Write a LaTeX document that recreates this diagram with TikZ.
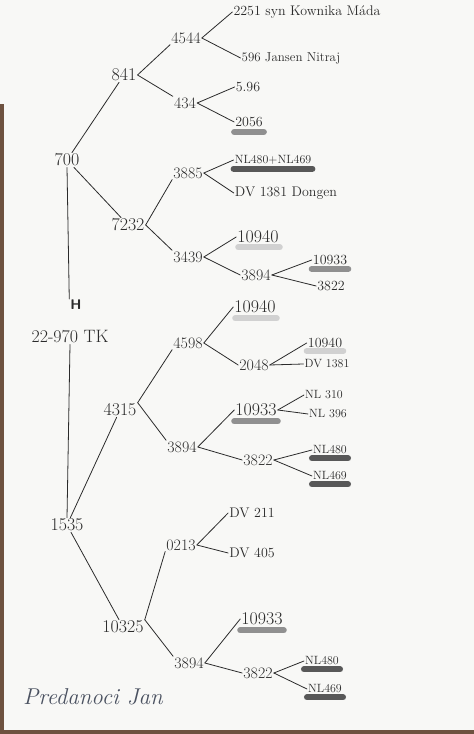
\documentclass[tikz,border=0pt]{standalone}
\usepackage{fontspec}
\definecolor{pen}{HTML}{2B2B2B}
\definecolor{bluepen}{HTML}{4A5160}
\definecolor{paper}{HTML}{F8F8F6}
\definecolor{wood}{HTML}{6E5240}
\definecolor{hldark}{HTML}{474747}
\definecolor{hlmid}{HTML}{858585}
\definecolor{hllight}{HTML}{CDCDCD}
\tikzset{
  big/.style={draw=none,inner sep=1bp,text=pen,font=\fontsize{18}{20}\selectfont},
  mid/.style={draw=none,inner sep=1bp,text=pen,font=\fontsize{16}{18}\selectfont},
  leaf/.style={draw=none,inner sep=1bp,text=pen,font=\fontsize{14}{16}\selectfont},
  tiny/.style={draw=none,inner sep=1bp,text=pen,font=\fontsize{12}{14}\selectfont},
  bar/.style={line width=6bp,line cap=round},
}
\begin{document}
\begin{tikzpicture}[>=latex,line join=bevel,]
%%
\useasboundingbox (0bp,0bp) rectangle (474bp,734bp);
\fill [paper] (0bp,0bp) rectangle (474bp,734bp);
\fill [wood] (0bp,0bp) rectangle (4bp,630bp);
\fill [wood] (0bp,0bp) rectangle (474bp,4bp);
%
\node (node_2251) at (307bp,722bp) [leaf] {2251 syn Kownika Máda};
  \node (node_4544) at (186bp,696bp) [mid] {4544};
  \node (node_596) at (291bp,676bp) [draw=none,inner sep=1bp,text=pen,font=\fontsize{13}{15}\selectfont] {596 Jansen Nitraj};
  \node (node_841) at (124bp,659bp) [big] {841};
  \node (node_596b) at (248bp,647bp) [leaf] {5.96};
  \node (node_434) at (185bp,631bp) [mid] {434};
  \node (node_2056) at (249bp,612bp) [leaf] {2056};
  \node (node_700) at (67bp,574bp) [big] {700};
  \node (node_3885) at (188bp,561bp) [mid] {3885};
  \node (node_nlpair) at (273bp,574bp) [tiny] {NL480+NL469};
  \node (node_dv1381) at (286bp,541bp) [leaf] {DV 1381 Dongen};
  \node (node_7232) at (128bp,509bp) [big] {7232};
  \node (node_10940) at (258bp,497bp) [big] {10940};
  \node (node_3439) at (188bp,477bp) [mid] {3439};
  \node (node_3894) at (256bp,459bp) [mid] {3894};
  \node (node_10933) at (330bp,474bp) [leaf] {10933};
  \node (node_3822) at (331bp,448bp) [leaf] {3822};
  \node (node_h) at (76bp,429bp) [draw=none,inner sep=1bp,text=pen,font=\sffamily\bfseries\fontsize{14}{16}\selectfont] {H};
  \node (node_tk) at (70bp,397bp) [big] {22-970 TK};
%
\node (node_10940b) at (255bp,427bp) [big] {10940};
  \node (node_4598) at (188bp,391bp) [mid] {4598};
  \node (node_2048) at (254bp,369bp) [mid] {2048};
  \node (node_10940c) at (325bp,391bp) [draw=none,inner sep=1bp,text=pen,font=\fontsize{14}{16}\selectfont] {10940};
  \node (node_dv1381b) at (327bp,370bp) [tiny] {DV 1381};
  \node (node_4315) at (120bp,324bp) [big] {4315};
  \node (node_nl310) at (324bp,339bp) [tiny] {NL 310};
  \node (node_10933b) at (256bp,324bp) [big] {10933};
  \node (node_nl396) at (328bp,320bp) [tiny] {NL 396};
  \node (node_3894b) at (182bp,287bp) [mid] {3894};
  \node (node_nl480) at (330bp,284bp) [tiny] {NL480};
  \node (node_3822b) at (258bp,274bp) [mid] {3822};
  \node (node_nl469) at (330bp,258bp) [tiny] {NL469};
%
\node (node_1535) at (67bp,209bp) [big] {1535};
  \node (node_dv211) at (252bp,221bp) [leaf] {DV 211};
  \node (node_0213) at (181bp,189bp) [mid] {0213};
  \node (node_dv405) at (252bp,181bp) [leaf] {DV 405};
  \node (node_10325) at (123bp,107bp) [big] {10325};
  \node (node_10933c) at (262bp,115bp) [big] {10933};
  \node (node_3894c) at (189bp,71bp) [mid] {3894};
  \node (node_3822c) at (258bp,61bp) [mid] {3822};
  \node (node_nl480b) at (322bp,73bp) [tiny] {NL480};
  \node (node_nl469b) at (325bp,45bp) [tiny] {NL469};
  \node (node_jan) at (93bp,37bp) [draw=none,text=bluepen,font=\fontsize{23}{25}\selectfont\itshape] {Predanoci Jan};
%
\begin{scope}[pen,line width=0.8bp,line cap=round]
  \draw (node_700) -- (node_841);
  \draw (node_841.east) -- (node_4544.south west);
  \draw (node_841.east) -- (node_434.north west);
  \draw (node_4544.east) -- (node_2251.west);
  \draw (node_4544.east) -- (node_596.west);
  \draw (node_434.east) -- (node_596b.west);
  \draw (node_434.east) -- (node_2056.west);
  \draw (node_700) -- (node_7232);
  \draw (node_7232.east) -- (node_3885.south west);
  \draw (node_7232.east) -- (node_3439.north west);
  \draw (node_3885.east) -- (node_nlpair.west);
  \draw (node_3885.east) -- (node_dv1381.west);
  \draw (node_3439.east) -- (node_10940.west);
  \draw (node_3439.east) -- (node_3894.west);
  \draw (node_3894.east) -- (node_10933.west);
  \draw (node_3894.east) -- (node_3822.west);
  \draw (node_700.south) -- (node_h.north west);
  \draw (node_tk.south) -- (node_1535.north);
  \draw (node_1535) -- (node_4315);
  \draw (node_4315.north east) -- (node_4598.south west);
  \draw (node_4315.north east) -- (node_3894b.north west);
  \draw (node_4598.east) -- (node_10940b.west);
  \draw (node_4598.east) -- (node_2048.west);
  \draw (node_2048.east) -- (node_10940c.west);
  \draw (node_2048.east) -- (node_dv1381b.west);
  \draw (node_3894b.east) -- (node_10933b.west);
  \draw (node_3894b.east) -- (node_3822b.west);
  \draw (node_10933b.east) -- (node_nl310.west);
  \draw (node_10933b.east) -- (node_nl396.west);
  \draw (node_3822b.east) -- (node_nl480.west);
  \draw (node_3822b.east) -- (node_nl469.west);
  \draw (node_1535) -- (node_10325);
  \draw (node_10325.north east) -- (node_0213.south west);
  \draw (node_10325.north east) -- (node_3894c.north west);
  \draw (node_0213.east) -- (node_dv211.west);
  \draw (node_0213.east) -- (node_dv405.west);
  \draw (node_3894c.east) -- (node_10933c.west);
  \draw (node_3894c.east) -- (node_3822c.west);
  \draw (node_3822c.east) -- (node_nl480b.west);
  \draw (node_3822c.east) -- (node_nl469b.west);
\end{scope}
%
\begin{scope}[bar,opacity=0.9]
  \draw [hlmid] ([yshift=-4bp]node_2056.south west) -- ([yshift=-4bp]node_2056.south east);
  \draw [hldark] ([yshift=-3bp]node_nlpair.south west) -- ([yshift=-3bp]node_nlpair.south east);
  \draw [hllight] ([xshift=2bp,yshift=-3bp]node_10940.south west) -- ([yshift=-3bp]node_10940.south east);
  \draw [hlmid] ([yshift=-3bp]node_10933.south west) -- ([yshift=-3bp]node_10933.south east);
  \draw [hllight] ([xshift=2bp,yshift=-4bp]node_10940b.south west) -- ([yshift=-4bp]node_10940b.south east);
  \draw [hllight] ([yshift=-2bp]node_10940c.south west) -- ([yshift=-2bp]node_10940c.south east);
  \draw [hlmid] ([yshift=-4bp]node_10933b.south west) -- ([yshift=-4bp]node_10933b.south east);
  \draw [hldark] ([yshift=-3bp]node_nl480.south west) -- ([yshift=-3bp]node_nl480.south east);
  \draw [hldark] ([yshift=-3bp]node_nl469.south west) -- ([yshift=-3bp]node_nl469.south east);
  \draw [hlmid] ([yshift=-4bp]node_10933c.south west) -- ([yshift=-4bp]node_10933c.south east);
  \draw [hldark] ([yshift=-3bp]node_nl480b.south west) -- ([yshift=-3bp]node_nl480b.south east);
  \draw [hldark] ([yshift=-3bp]node_nl469b.south west) -- ([yshift=-3bp]node_nl469b.south east);
\end{scope}
%
\end{tikzpicture}
\end{document}
